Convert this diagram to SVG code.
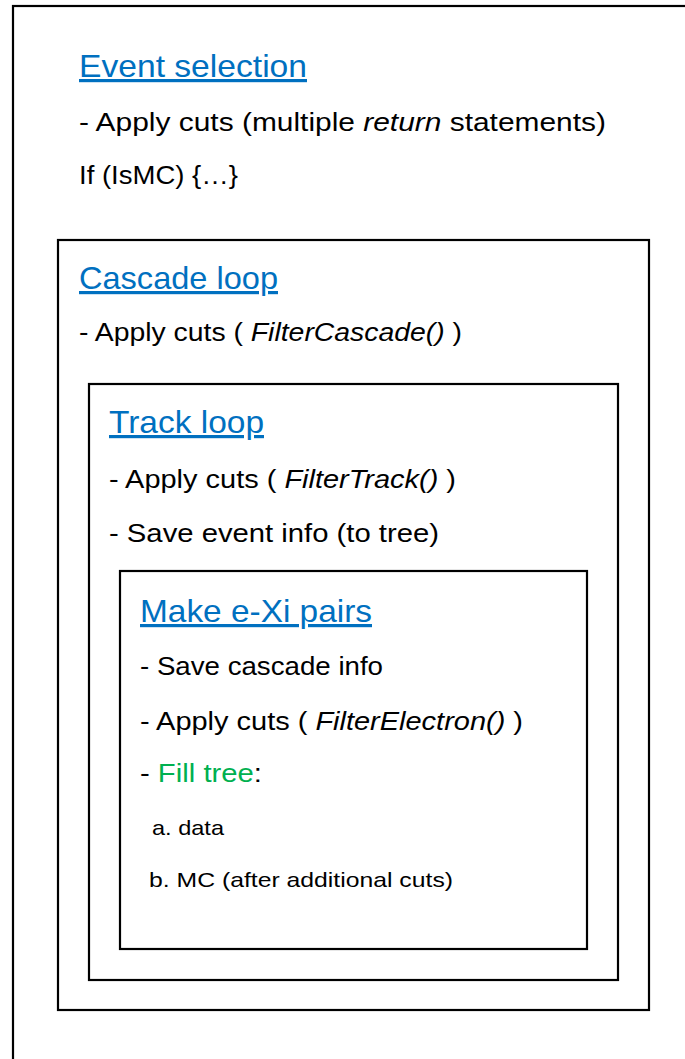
<svg xmlns="http://www.w3.org/2000/svg" width="685" height="1059" viewBox="0 0 685 1059">
<style>
.box{fill:none;stroke:#000;stroke-width:2.2}
text{font-family:"Liberation Sans",Arial,sans-serif;fill:#000}
.title{font-size:32px;fill:#0070C0;text-decoration:underline}
.body{font-size:26px}
.small{font-size:21px}
.it{font-style:italic}
.green{fill:#00B050}
</style>
<rect width="685" height="1059" fill="#fff"/>
<g id="event-selection">
<rect class="box" x="13" y="6" width="700" height="1100"/>
<text class="title" x="79" y="77" textLength="228" lengthAdjust="spacingAndGlyphs">Event selection</text>
<text class="body" x="79" y="131" textLength="527" lengthAdjust="spacingAndGlyphs">- Apply cuts (multiple <tspan class="it">return</tspan> statements)</text>
<text class="body" x="79" y="184" textLength="159" lengthAdjust="spacingAndGlyphs">If (IsMC) {…}</text>
</g>
<g id="cascade-loop">
<rect class="box" x="58" y="240" width="591" height="770"/>
<text class="title" x="79" y="289" textLength="199" lengthAdjust="spacingAndGlyphs">Cascade loop</text>
<text class="body" x="79" y="341" textLength="383" lengthAdjust="spacingAndGlyphs">- Apply cuts ( <tspan class="it">FilterCascade()</tspan> )</text>
</g>
<g id="track-loop">
<rect class="box" x="89" y="384" width="529" height="596"/>
<text class="title" x="109" y="433" textLength="155" lengthAdjust="spacingAndGlyphs">Track loop</text>
<text class="body" x="109" y="488" textLength="347" lengthAdjust="spacingAndGlyphs">- Apply cuts ( <tspan class="it">FilterTrack()</tspan> )</text>
<text class="body" x="109" y="542" textLength="330" lengthAdjust="spacingAndGlyphs">- Save event info (to tree)</text>
</g>
<g id="make-pairs">
<rect class="box" x="120" y="571" width="467" height="378"/>
<text class="title" x="140" y="622" textLength="232" lengthAdjust="spacingAndGlyphs">Make e-Xi pairs</text>
<text class="body" x="140" y="675" textLength="243" lengthAdjust="spacingAndGlyphs">- Save cascade info</text>
<text class="body" x="140" y="730" textLength="383" lengthAdjust="spacingAndGlyphs">- Apply cuts ( <tspan class="it">FilterElectron()</tspan> )</text>
<text class="body" x="140" y="782" textLength="122" lengthAdjust="spacingAndGlyphs">- <tspan class="green">Fill tree</tspan>:</text>
<text class="small" x="152" y="835" textLength="72" lengthAdjust="spacingAndGlyphs">a. data</text>
<text class="small" x="149" y="887" textLength="304" lengthAdjust="spacingAndGlyphs">b. MC (after additional cuts)</text>
</g>
<g id="connectors"/>
</svg>
